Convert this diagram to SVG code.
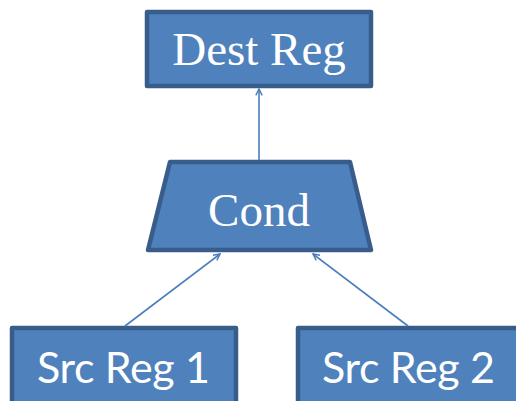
<svg xmlns="http://www.w3.org/2000/svg" width="516" height="401" viewBox="0 0 516 401">
<style>
.box{fill:#4f81bd;stroke:#385d8a;stroke-width:4.5;stroke-linejoin:round}
.serif{font-family:"Liberation Serif","Times New Roman",serif;font-size:47px;fill:#fff;text-anchor:middle}
.sans{font-family:Lato,"Liberation Sans",sans-serif;font-size:43px;fill:#fff;text-anchor:middle}
.conn{stroke:#4a7ebb;stroke-width:1.6;fill:none}
</style>
<defs>
<marker id="arr" viewBox="0 0 10 10" refX="9" refY="5" markerWidth="8" markerHeight="8" markerUnits="userSpaceOnUse" orient="auto">
<path d="M1,1 L9,5 L1,9" fill="none" stroke="#4a7ebb" stroke-width="1.8"/>
</marker>
</defs>
<g id="dest">
<rect class="box" x="147" y="12" width="224" height="74"/>
<text class="serif" x="259" y="65">Dest Reg</text>
</g>
<g id="cond">
<polygon class="box" points="170,162 350,162 371,250 148,250"/>
<text class="serif" x="259" y="226">Cond</text>
</g>
<g id="src1">
<rect class="box" x="12" y="328" width="224" height="90"/>
<text class="sans" x="123.5" y="383" textLength="173">Src Reg 1</text>
</g>
<g id="src2">
<rect class="box" x="298" y="328" width="240" height="90"/>
<text class="sans" x="408.5" y="383" textLength="173">Src Reg 2</text>
</g>
<g id="connectors">
<line class="conn" x1="259" y1="160" x2="259" y2="89" marker-end="url(#arr)"/>
<line class="conn" x1="125" y1="326" x2="220" y2="254" marker-end="url(#arr)"/>
<line class="conn" x1="408" y1="326" x2="313" y2="254" marker-end="url(#arr)"/>
</g>
</svg>
